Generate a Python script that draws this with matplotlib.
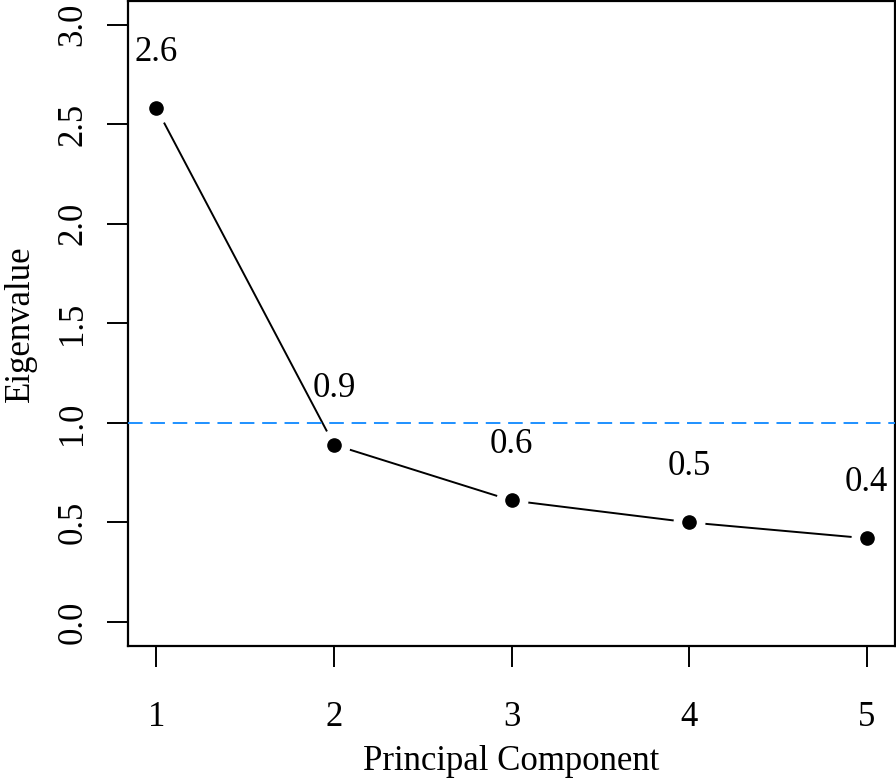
import numpy as np
import matplotlib
matplotlib.use("Agg")
import matplotlib.pyplot as plt

# eigenvalues
components = [1, 2, 3, 4, 5]
eigenvalues = [2.58, 0.89, 0.61, 0.50, 0.42]
labels = ["2.6", "0.9", "0.6", "0.5", "0.4"]
yticks = [0.0, 0.5, 1.0, 1.5, 2.0, 2.5, 3.0]
xticks = [1, 2, 3, 4, 5]

plt.rcParams['font.family'] = ['Liberation Serif', 'DejaVu Serif']

fig = plt.figure(figsize=(8.96, 7.79), dpi=100)
ax = fig.add_axes([0.1429, 0.171, 0.856, 0.828])

x = np.array(components)
y = np.array(eigenvalues)

# type="b": line with gaps around the points
ax.plot(x, y, color="black", lw=1.4, zorder=2)
ax.plot(x, y, "o", ms=22, mfc="white", mec="white", zorder=3)
ax.axhline(1.0, color="#1E90FF", lw=1.4, ls=(0, (7.5, 4)), zorder=4)
ax.plot(x, y, "o", ms=9.5, color="black", zorder=5)

for xi, yi, lab in zip(x, y, labels):
    ax.text(xi, yi + 0.28, lab, ha="center", va="center", fontsize=25, zorder=6)

ax.set_xlim(0.84, 5.16)
ax.set_ylim(-0.12, 3.12)
ax.set_xticks(xticks)
ax.set_yticks(yticks)
ax.set_xticklabels([str(t) for t in xticks])
ax.set_yticklabels([f"{t:.1f}" for t in yticks], rotation=90, va="center")

ax.tick_params(axis="both", direction="out", length=15, width=1.4, labelsize=25)
ax.tick_params(axis="x", pad=25)
ax.tick_params(axis="y", pad=13)
for sp in ax.spines.values():
    sp.set_linewidth(1.6)

ax.set_xlabel("Principal Component", fontsize=25, labelpad=8)
ax.set_ylabel("Eigenvalue", fontsize=25, labelpad=14)

fig.savefig("out.png", dpi=100)
